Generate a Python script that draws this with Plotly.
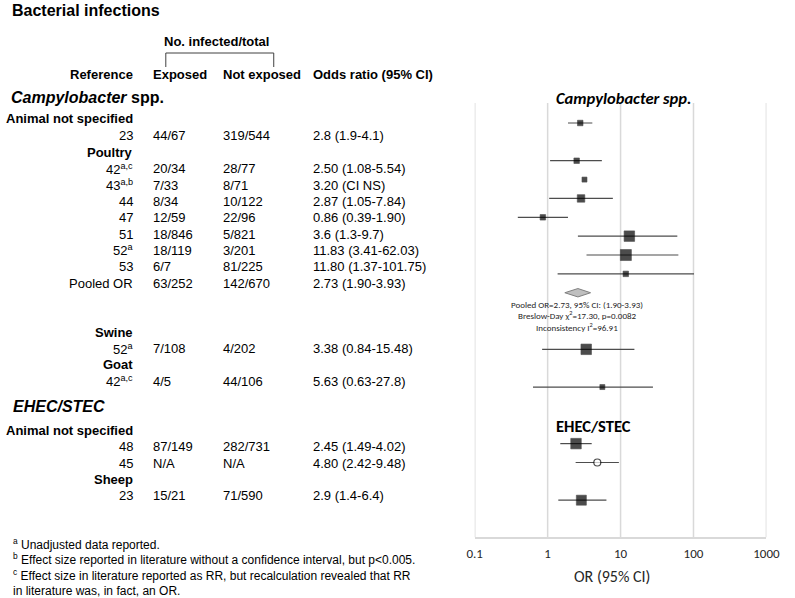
import plotly.graph_objects as go

W, H = 795, 598

# ---------------- table data ----------------
camp_groups = ["Animal not specified", "Poultry", "Swine", "Goat"]
camp_refs = [["23"],
             ["42<sup>a,c</sup>", "43<sup>a,b</sup>", "44", "47", "51", "52<sup>a</sup>", "53", "Pooled OR"],
             ["52<sup>a</sup>"],
             ["42<sup>a,c</sup>"]]
camp_exposed = [["44/67"],
                ["20/34", "7/33", "8/34", "12/59", "18/846", "18/119", "6/7", "63/252"],
                ["7/108"],
                ["4/5"]]
camp_notexp = [["319/544"],
               ["28/77", "8/71", "10/122", "22/96", "5/821", "3/201", "81/225", "142/670"],
               ["4/202"],
               ["44/106"]]
camp_ortext = [["2.8 (1.9-4.1)"],
               ["2.50 (1.08-5.54)", "3.20 (CI NS)", "2.87 (1.05-7.84)", "0.86 (0.39-1.90)",
                "3.6 (1.3-9.7)", "11.83 (3.41-62.03)", "11.80 (1.37-101.75)", "2.73 (1.90-3.93)"],
               ["3.38 (0.84-15.48)"],
               ["5.63 (0.63-27.8)"]]

ehec_groups = ["Animal not specified", "Sheep"]
ehec_refs = [["48", "45"], ["23"]]
ehec_exposed = [["87/149", "N/A"], ["15/21"]]
ehec_notexp = [["282/731", "N/A"], ["71/590"]]
ehec_ortext = [["2.45 (1.49-4.02)", "4.80 (2.42-9.48)"], ["2.9 (1.4-6.4)"]]

footnotes = ["<sup>a</sup> Unadjusted data reported.",
             "<sup>b</sup> Effect size reported in literature without a confidence interval, but p<0.005.",
             "<sup>c</sup> Effect size in literature reported as RR, but recalculation revealed that RR",
             "in literature was, in fact, an OR."]

# ---------------- forest data (as drawn) ----------------
plot_or = [2.8, 2.50, 3.20, 2.87, 0.86, 13.2, 11.83, 11.80, 3.38, 5.63, 2.45, 4.80, 2.9]
plot_lo = [1.9, 1.08, None, 1.05, 0.39, 2.6, 3.41, 1.37, 0.84, 0.63, 1.49, 2.42, 1.4]
plot_hi = [4.1, 5.54, None, 7.84, 1.90, 60.0, 62.03, 101.75, 15.48, 27.8, 4.02, 9.48, 6.4]
plot_open = [False] * 11 + [True, False]
pooled_est, pooled_lo, pooled_hi = 2.6, 1.72, 3.88
pooled_text = ["Pooled OR=2.73, 95% CI: (1.90-3.93)",
               "Breslow-Day χ<sup>2</sup>=17.30, p=0.0082",
               "Inconsistency I<sup>2</sup>=96.91"]
x_ticks = [0.1, 1, 10, 100, 1000]
x_ticktext = ["0.1", "1", "10", "100", "1000"]

# ---------------- layout helpers (positions / styles) ----------------
slots = [0, 2, 3, 4, 5, 6, 7, 8, 12, 14, 17, 18, 20]
pooled_slot = 9
msize = [5.5, 5.5, 5, 7.5, 5.5, 10.5, 11, 5.5, 10.5, 5, 10.5, 7, 10]

SLOT0, SLOT_H = 123.0, 18.86
PLOT_TOP, PLOT_BOT = 103.0, 537.3
X_L, X_R = 480.0, 780.0


def px(x):
    return x / W


def py(y):
    return 1 - y / H


TFONT = "Liberation Sans, Arial, sans-serif"
CFONT = "Carlito, Lato, sans-serif"

fig = go.Figure()

# CI lines
for i, (o, lo, hi) in enumerate(zip(plot_or, plot_lo, plot_hi)):
    if lo is None:
        continue
    fig.add_trace(go.Scatter(x=[lo, hi], y=[slots[i], slots[i]], mode="lines",
                             line=dict(color="#4d4d4d", width=1.2),
                             hoverinfo="skip", showlegend=False))

# filled square markers
fig.add_trace(go.Scatter(
    x=[o for o, op in zip(plot_or, plot_open) if not op],
    y=[s for s, op in zip(slots, plot_open) if not op], mode="markers",
    marker=dict(symbol="square", size=[m for m, op in zip(msize, plot_open) if not op],
                color="black", line=dict(color="black", width=0.6)),
    showlegend=False, hoverinfo="skip"))
# open circle markers
fig.add_trace(go.Scatter(
    x=[o for o, op in zip(plot_or, plot_open) if op],
    y=[s for s, op in zip(slots, plot_open) if op], mode="markers",
    marker=dict(symbol="circle", size=[m for m, op in zip(msize, plot_open) if op],
                color="white", line=dict(color="black", width=1.2)),
    showlegend=False, hoverinfo="skip"))

# pooled diamond
dh = 4.2 / SLOT_H
fig.add_trace(go.Scatter(
    x=[pooled_lo, pooled_est, pooled_hi, pooled_est, pooled_lo],
    y=[pooled_slot, pooled_slot - dh, pooled_slot, pooled_slot + dh, pooled_slot],
    mode="lines", fill="toself", fillcolor="#bfbfbf",
    line=dict(color="#808080", width=1), showlegend=False, hoverinfo="skip"))

ann = []


def A(x, y, text, anchor="left", size=13, font=TFONT, color="black"):
    ann.append(dict(x=px(x), y=py(y), xref="paper", yref="paper", text=text,
                    showarrow=False, xanchor=anchor, yanchor="middle",
                    font=dict(family=font, size=size, color=color)))


# Title and headers
A(2, 11, "<b>Bacterial infections</b>", size=16)
A(214, 42, "<b>No. infected/total</b>", anchor="center")
A(131, 74, "<b>Reference</b>", anchor="right")
A(146.7, 74, "<b>Exposed</b>")
A(219, 74, "<b>Not exposed</b>")
A(311.7, 74, "<b>Odds ratio (95% CI)</b>")
A(1, 97, "<b><i>Campylobacter</i> spp.</b>", size=16)
A(3, 406, "<b><i>EHEC/STEC</i></b>", size=16)

ROW0, ROW_H = 136.0, 16.35


def table_block(groups, refs, exps, nexps, ors, start_rows, group_rows):
    for g, gr in enumerate(groups):
        A(131, ROW0 + ROW_H * group_rows[g], "<b>%s</b>" % gr, anchor="right")
        for k in range(len(refs[g])):
            y = ROW0 + ROW_H * (start_rows[g] + k)
            A(131, y, refs[g][k], anchor="right")
            A(146.7, y, exps[g][k])
            A(219, y, nexps[g][k])
            A(311.7, y, ors[g][k])


table_block(camp_groups, camp_refs, camp_exposed, camp_notexp, camp_ortext,
            start_rows=[0, 2, 13, 15], group_rows=[-1.08, 1, 12, 14])
table_block(ehec_groups, ehec_refs, ehec_exposed, ehec_notexp, ehec_ortext,
            start_rows=[19, 22], group_rows=[18, 21])

for j, t in enumerate(footnotes):
    A(3, 543.5 + 15.7 * j, t, size=12)

# forest text
A(633, 98, "<b><i>Campylobacter spp.</i></b>", anchor="center", size=16.5, font=CFONT)
A(601.7, 426, "<b>EHEC/STEC</b>", anchor="center", size=16.5, font=CFONT)
for j, t in enumerate(pooled_text):
    A(585.7, 304 + 11.4 * j, t, anchor="center", size=9, font=CFONT, color="#262626")
A(621, 576, "OR (95% CI)", anchor="center", size=16, font=CFONT, color="#262626")

shapes = [
    dict(type="line", xref="paper", yref="paper", x0=px(162.3), x1=px(273.3), y0=py(53), y1=py(53),
         line=dict(color="#404040", width=1)),
    dict(type="line", xref="paper", yref="paper", x0=px(162.3), x1=px(162.3), y0=py(53), y1=py(67),
         line=dict(color="#404040", width=1)),
    dict(type="line", xref="paper", yref="paper", x0=px(273.3), x1=px(273.3), y0=py(53), y1=py(67),
         line=dict(color="#404040", width=1)),
]
for tv in x_ticks:
    shapes.append(dict(type="line", xref="x", yref="y domain", x0=tv, x1=tv, y0=0, y1=1,
                       line=dict(color="#d9d9d9", width=1.5), layer="below"))

fig.update_layout(
    width=W, height=H, margin=dict(l=0, r=0, t=0, b=0),
    paper_bgcolor="white", plot_bgcolor="white",
    xaxis=dict(type="log", range=[-1, 3], domain=[px(X_L), px(X_R)],
               tickvals=x_ticks, ticktext=x_ticktext, showgrid=False,
               showline=True, linecolor="#d9d9d9", linewidth=1.5, zeroline=False,
               ticks="", tickfont=dict(family=CFONT, size=13, color="#262626"),
               ticklabelstandoff=3, fixedrange=True),
    yaxis=dict(range=[(PLOT_BOT - SLOT0) / SLOT_H, (PLOT_TOP - SLOT0) / SLOT_H],
               domain=[py(PLOT_BOT), py(PLOT_TOP)], visible=False, fixedrange=True),
    annotations=ann, shapes=shapes, showlegend=False,
)

fig.write_html("out.html", config={"displayModeBar": False},
               post_script="document.body.style.margin='0';document.body.style.overflow='hidden';")
